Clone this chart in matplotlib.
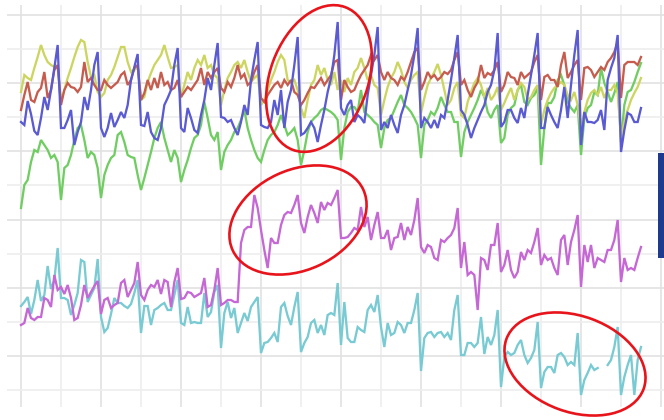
import numpy as np
import matplotlib
matplotlib.use("Agg")
import matplotlib.pyplot as plt
from matplotlib.patches import Ellipse, Rectangle

nan = np.nan
months = np.arange(187)

blue = [
    268, 265, 289, 276, 259, 255, 272, 293, 280, 300, 322, 345,
    262, 262, 270, 280, 245, 258, 268, 293, 280, 300, 325, 338,
    262, 253, 262, 277, 263, 270, 278, 272, 285, 310, 323, 336,
    265, 264, 278, 258, 252, 250, 262, 285, 292, 300, 325, 342,
    262, 258, 282, 272, 260, 257, 275, 290, 312, 300, 325, 347,
    273, 272, 268, 270, 262, 255, 268, 285, 275, 310, 330, 348,
    265, 263, 262, 268, 290, 275, 300, 262, 288, 300, 325, 353,
    255, 257, 262, 268, 262, 248, 265, 280, 298, 312, 335, 368,
    282, 275, 285, 290, 268, 275, 272, 267, 295, 315, 335, 363,
    260, 268, 262, 275, 265, 257, 275, 285, 300, 315, 335, 362,
    262, 272, 268, 262, 270, 262, 275, 272, 290, 310, 332, 355,
    280, 275, 265, 252, 262, 270, 278, 285, 298, 305, 320, 357,
    263, 268, 280, 280, 272, 267, 282, 272, 295, 315, 335, 357,
    262, 262, 283, 275, 268, 262, 280, 303, 272, 305, 335, 360,
    245, 278, 268, 268, 267, 270, 280, 260, 310, 322, 332, 355,
    238, 260, 277, 275, 268, 268, 282]

red = [
    280, 295, 308, 290, 288, 298, 302, 318, 292, 300, 320, 325,
    285, 300, 307, 303, 302, 298, 303, 328, 308, 312, 305, 300,
    300, 310, 305, 302, 305, 308, 315, 318, 305, 310, 322, 325,
    290, 297, 310, 300, 312, 302, 318, 305, 308, 300, 302, 310,
    293, 298, 303, 300, 305, 310, 322, 305, 318, 312, 318, 322,
    302, 298, 308, 303, 312, 325, 312, 316, 305, 308, 318, 325,
    292, 288, 295, 300, 305, 308, 302, 310, 305, 310, 298, 295,
    285, 290, 297, 303, 302, 307, 312, 305, 310, 315, 328, 330,
    290, 310, 303, 298, 300, 308, 315, 320, 325, 335, 330, 335,
    318, 310, 318, 312, 310, 305, 313, 310, 318, 328, 338, 342,
    300, 308, 318, 312, 315, 310, 313, 318, 316, 320, 330, 338,
    305, 310, 300, 293, 302, 308, 325, 312, 317, 315, 320, 328,
    298, 305, 318, 313, 312, 305, 318, 312, 315, 318, 328, 335,
    290, 313, 315, 310, 310, 303, 325, 338, 312, 318, 325, 330,
    290, 322, 323, 320, 313, 318, 323, 320, 328, 332, 338, 348,
    292, 325, 328, 328, 328, 325, 333]

yellow = [
    298, 315, 312, 310, 322, 333, 345, 335, 328, 325, 323, 322,
    290, 300, 312, 322, 333, 343, 350, 348, 328, 313, 315, 298,
    293, 297, 310, 315, 323, 333, 343, 343, 328, 318, 320, 323,
    290, 293, 308, 317, 325, 330, 335, 345, 333, 322, 323, 325,
    292, 305, 318, 310, 322, 330, 325, 335, 322, 325, 315, 312,
    285, 300, 312, 318, 325, 328, 322, 330, 318, 308, 312, 315,
    285, 290, 300, 310, 318, 328, 335, 330, 310, 307, 310, 300,
    282, 272, 290, 305, 310, 325, 315, 322, 310, 305, 318, 300,
    310, 298, 312, 305, 318, 322, 332, 322, 310, 315, 305, 302,
    275, 290, 303, 312, 318, 328, 320, 308, 302, 310, 315, 318,
    277, 292, 305, 312, 318, 326, 315, 300, 285, 290, 302, 308,
    275, 272, 288, 298, 307, 312, 305, 293, 302, 290, 295, 303,
    280, 287, 295, 302, 290, 300, 307, 303, 290, 293, 300, 305,
    265, 280, 290, 297, 302, 305, 308, 305, 295, 290, 298, 285,
    262, 278, 290, 297, 300, 295, 303, 292, 300, 300, 305, 297,
    252, 268, 280, 290, 297, 303, 312]

green = [
    182, 205, 210, 228, 240, 238, 250, 245, 240, 232, 235, 228,
    190, 222, 225, 235, 250, 262, 265, 250, 232, 238, 235, 222,
    192, 215, 225, 232, 235, 255, 258, 248, 235, 233, 232, 215,
    200, 212, 225, 238, 252, 262, 268, 252, 240, 228, 240, 232,
    208, 220, 230, 242, 252, 255, 265, 288, 272, 255, 250, 258,
    220, 238, 245, 250, 258, 262, 270, 280, 262, 250, 240, 232,
    228, 240, 250, 255, 258, 265, 275, 265, 255, 258, 262, 250,
    225, 240, 258, 268, 272, 275, 280, 282, 280, 278, 275, 270,
    230, 262, 278, 283, 283, 278, 300, 278, 275, 272, 268, 265,
    242, 262, 270, 272, 280, 288, 295, 285, 282, 278, 272, 265,
    232, 265, 270, 278, 275, 282, 293, 285, 278, 278, 268, 268,
    233, 258, 268, 275, 282, 290, 300, 293, 278, 272, 280, 285,
    247, 252, 275, 282, 285, 300, 305, 288, 285, 292, 295, 302,
    225, 262, 287, 287, 293, 310, 315, 305, 288, 282, 278, 285,
    235, 272, 282, 285, 298, 295, 322, 307, 298, 288, 297, 308,
    248, 285, 298, 300, 308, 318, 327]

magenta = [
    65, 67, 82, 72, 70, 73, 73, 92, 90, 83, 115, 100,
    103, 96, 105, 92, 70, 72, 85, 105, 92, 98, 104, 109,
    76, 90, 92, 82, 85, 87, 107, 110, 93, 100, 107, 128,
    95, 90, 100, 105, 103, 110, 96, 110, 108, 83, 108, 122,
    91, 92, 98, 97, 93, 95, 97, 112, 83, 85, 100, 122,
    85, 87, 90, 90, 88, 88, 147, 160, 163, 163, 195, 182,
    160, 140, 122, 152, 147, 147, 165, 175, 178, 177, 185, 195,
    167, 157, 173, 185, 177, 167, 188, 180, 187, 185, 192, 200,
    152, 152, 153, 157, 162, 160, 183, 163, 173, 150, 165, 178,
    152, 152, 160, 140, 152, 153, 167, 150, 163, 155, 170, 192,
    143, 137, 145, 143, 132, 130, 150, 148, 152, 155, 162, 182,
    122, 148, 115, 118, 115, 80, 132, 130, 120, 145, 145, 167,
    118, 125, 140, 120, 112, 118, 138, 130, 140, 137, 148, 162,
    125, 135, 130, 132, 122, 115, 150, 155, 125, 148, 160, 175,
    103, 145, 128, 145, 122, 132, 130, 128, 140, 140, 150, 170,
    108, 132, 120, 122, 120, 132, 143]

cyan = [
    84, 88, 93, 76, 90, 110, 89, 95, 124, 101, 110, 142,
    92, 92, 90, 75, 85, 97, 130, 128, 88, 95, 102, 131,
    73, 58, 62, 76, 92, 87, 87, 84, 82, 86, 97, 110,
    57, 84, 84, 65, 80, 82, 85, 87, 80, 80, 95, 110,
    67, 65, 83, 67, 68, 67, 67, 97, 73, 78, 98, 105,
    42, 77, 88, 72, 82, 57, 67, 77, 69, 83, 88, 93,
    37, 47, 48, 52, 57, 48, 83, 87, 74, 65, 83, 98,
    38, 47, 53, 67, 70, 57, 65, 55, 75, 77, 75, 107,
    45, 88, 52, 48, 48, 63, 60, 58, 80, 85, 78, 95,
    63, 43, 67, 55, 57, 68, 65, 57, 67, 67, 80, 97,
    19, 52, 57, 58, 53, 57, 58, 53, 57, 50, 80, 95,
    35, 35, 47, 47, 43, 47, 73, 36, 53, 45, 55, 80,
    3, 33, 38, 35, 37, 45, 50, 35, 27, 32, 40, 68,
    2, 18, 23, 23, 17, 35, 37, 33, 25, 28, 25, 57,
    -5, 10, 17, 25, 20, 22, nan, nan, 25, 30, 43, 63,
    -5, 13, 25, 35, -5, 30, 43]

series = [
    (green, "#70cd62"),
    (yellow, "#ccd65f"),
    (red, "#c65c4e"),
    (blue, "#5a5ad3"),
    (cyan, "#78cad3"),
    (magenta, "#c567d4"),
]

GRID_STEP = 34.09
year_ticks = np.arange(0, 193, 12)
level_ticks = np.arange(12) * GRID_STEP

fig = plt.figure(figsize=(6.64, 4.2), dpi=100)
ax = fig.add_axes([7 / 664, 13 / 420, 657 / 664, 402 / 420])
ax.set_xlim(-4.2, 192.9)
ax.set_ylim(-17, 385)
ax.axis("off")

for k, xv in enumerate(year_ticks):
    ax.axvline(xv, color="#e2e2e2" if k % 2 == 0 else "#eeeeee", lw=1.2, zorder=0)
for k, yv in enumerate(level_ticks):
    ax.axhline(yv, color="#e2e2e2" if k % 2 == 1 else "#eeeeee", lw=1.2, zorder=0)

for vals, col in series:
    ax.plot(months, np.array(vals, dtype=float), color=col, lw=1.65,
            solid_joinstyle="miter", zorder=2)

# annotation overlay in pixel coordinates
ov = fig.add_axes([0, 0, 1, 1])
ov.set_xlim(0, 664)
ov.set_ylim(0, 420)
ov.axis("off")
ov.patch.set_alpha(0)
red_ann = "#e8141b"
ov.add_patch(Ellipse((319, 341.5), 98, 152, angle=-20, fill=False, ec=red_ann, lw=1.9))
ov.add_patch(Ellipse((298, 200), 144, 100, angle=25, fill=False, ec=red_ann, lw=1.9))
ov.add_patch(Ellipse((575, 56), 146, 96, angle=-20, fill=False, ec=red_ann, lw=1.9))
ov.add_patch(Rectangle((658, 162), 8, 105, color="#1d3a8f", lw=0))

fig.savefig("out.png", dpi=100)
